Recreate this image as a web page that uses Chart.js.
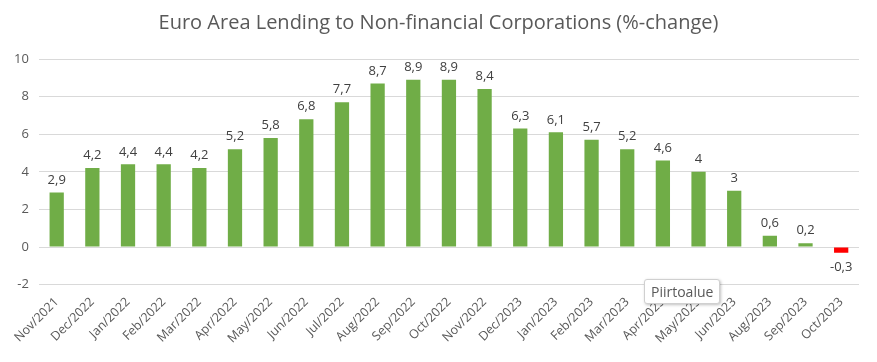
<!DOCTYPE html>
<html>
<head>
<meta charset="utf-8">
<script src="https://cdn.jsdelivr.net/npm/chart.js@4"></script>
<style>
  html, body { margin: 0; padding: 0; background: #fff; }
  #wrap { position: relative; width: 877px; height: 362px; }
  #title {
    position: absolute; left: 0; top: 8px; width: 877px; text-align: center;
    font: 20px "Open Sans", sans-serif; color: #595959;
  }
  #tip {
    position: absolute; left: 644px; top: 279px;
    padding: 2px 6px; font: 14px "Open Sans", sans-serif; color: #595959;
    background: #fff; border: 1px solid #d0d0d0; border-radius: 3px;
    box-shadow: 1px 1px 3px rgba(0,0,0,0.25);
  }
</style>
</head>
<body>
<div id="wrap">
  <canvas id="lending" width="877" height="362"></canvas>
  <div id="title">Euro Area Lending to Non-financial Corporations (%-change)</div>
  <div id="tip">Piirtoalue</div>
</div>
<script>
const months = ['Nov/2021', 'Dec/2022', 'Jan/2022', 'Feb/2022', 'Mar/2022', 'Apr/2022', 'May/2022', 'Jun/2022',
    'Jul/2022', 'Aug/2022', 'Sep/2022', 'Oct/2022', 'Nov/2022', 'Dec/2023', 'Jan/2023', 'Feb/2023',
    'Mar/2023', 'Apr/2023', 'May/2023', 'Jun/2023', 'Aug/2023', 'Sep/2023', 'Oct/2023'];
const change = [2.9, 4.2, 4.4, 4.4, 4.2, 5.2, 5.8, 6.8, 7.7, 8.7, 8.9, 8.9, 8.4, 6.3, 6.1, 5.7,
    5.2, 4.6, 4, 3, 0.6, 0.2, -0.3];

// labels above the bars (below for negatives), comma as decimal separator
const valueLabels = {
    id: 'valueLabels',
    afterDatasetsDraw(chart) {
        const ctx = chart.ctx;
        const meta = chart.getDatasetMeta(0);
        ctx.save();
        ctx.font = '13px "Open Sans", sans-serif';
        ctx.fillStyle = '#404040';
        ctx.textAlign = 'center';
        meta.data.forEach((bar, i) => {
            const v = change[i];
            const txt = String(v).replace('.', ',');
            if (v >= 0) {
                ctx.textBaseline = 'bottom';
                ctx.fillText(txt, bar.x, bar.y - 6);
            } else {
                ctx.textBaseline = 'top';
                ctx.fillText(txt, bar.x, bar.y + 8);
            }
        });
        ctx.restore();
    }
};

const ctx = document.getElementById('lending').getContext('2d');
const lending = new Chart(ctx, {
    type: 'bar',
    data: {
        labels: months,
        datasets: [{
            data: change,
            backgroundColor: change.map(v => v < 0 ? '#ff0000' : '#70ad47'),
            barPercentage: 0.8,
            categoryPercentage: 0.5
        }]
    },
    options: {
        responsive: false,
        animation: false,
        layout: { padding: { left: 4, right: 18, top: 59, bottom: 14 } },
        plugins: {
            legend: { display: false },
            tooltip: { enabled: false },
            title: { display: false }
        },
        scales: {
            x: {
                grid: { display: false },
                border: { display: false },
                ticks: {
                    color: '#595959',
                    font: { family: '"Open Sans", sans-serif', size: 12.5 },
                    maxRotation: 45,
                    minRotation: 45,
                    autoSkip: false,
                    padding: 2
                }
            },
            y: {
                min: -2,
                max: 10,
                ticks: {
                    stepSize: 2,
                    color: '#595959',
                    font: { family: '"Open Sans", sans-serif', size: 13 },
                    padding: 10
                },
                grid: { color: '#d9d9d9', drawTicks: false },
                border: { display: false }
            }
        }
    },
    plugins: [valueLabels]
});
</script>
</body>
</html>
